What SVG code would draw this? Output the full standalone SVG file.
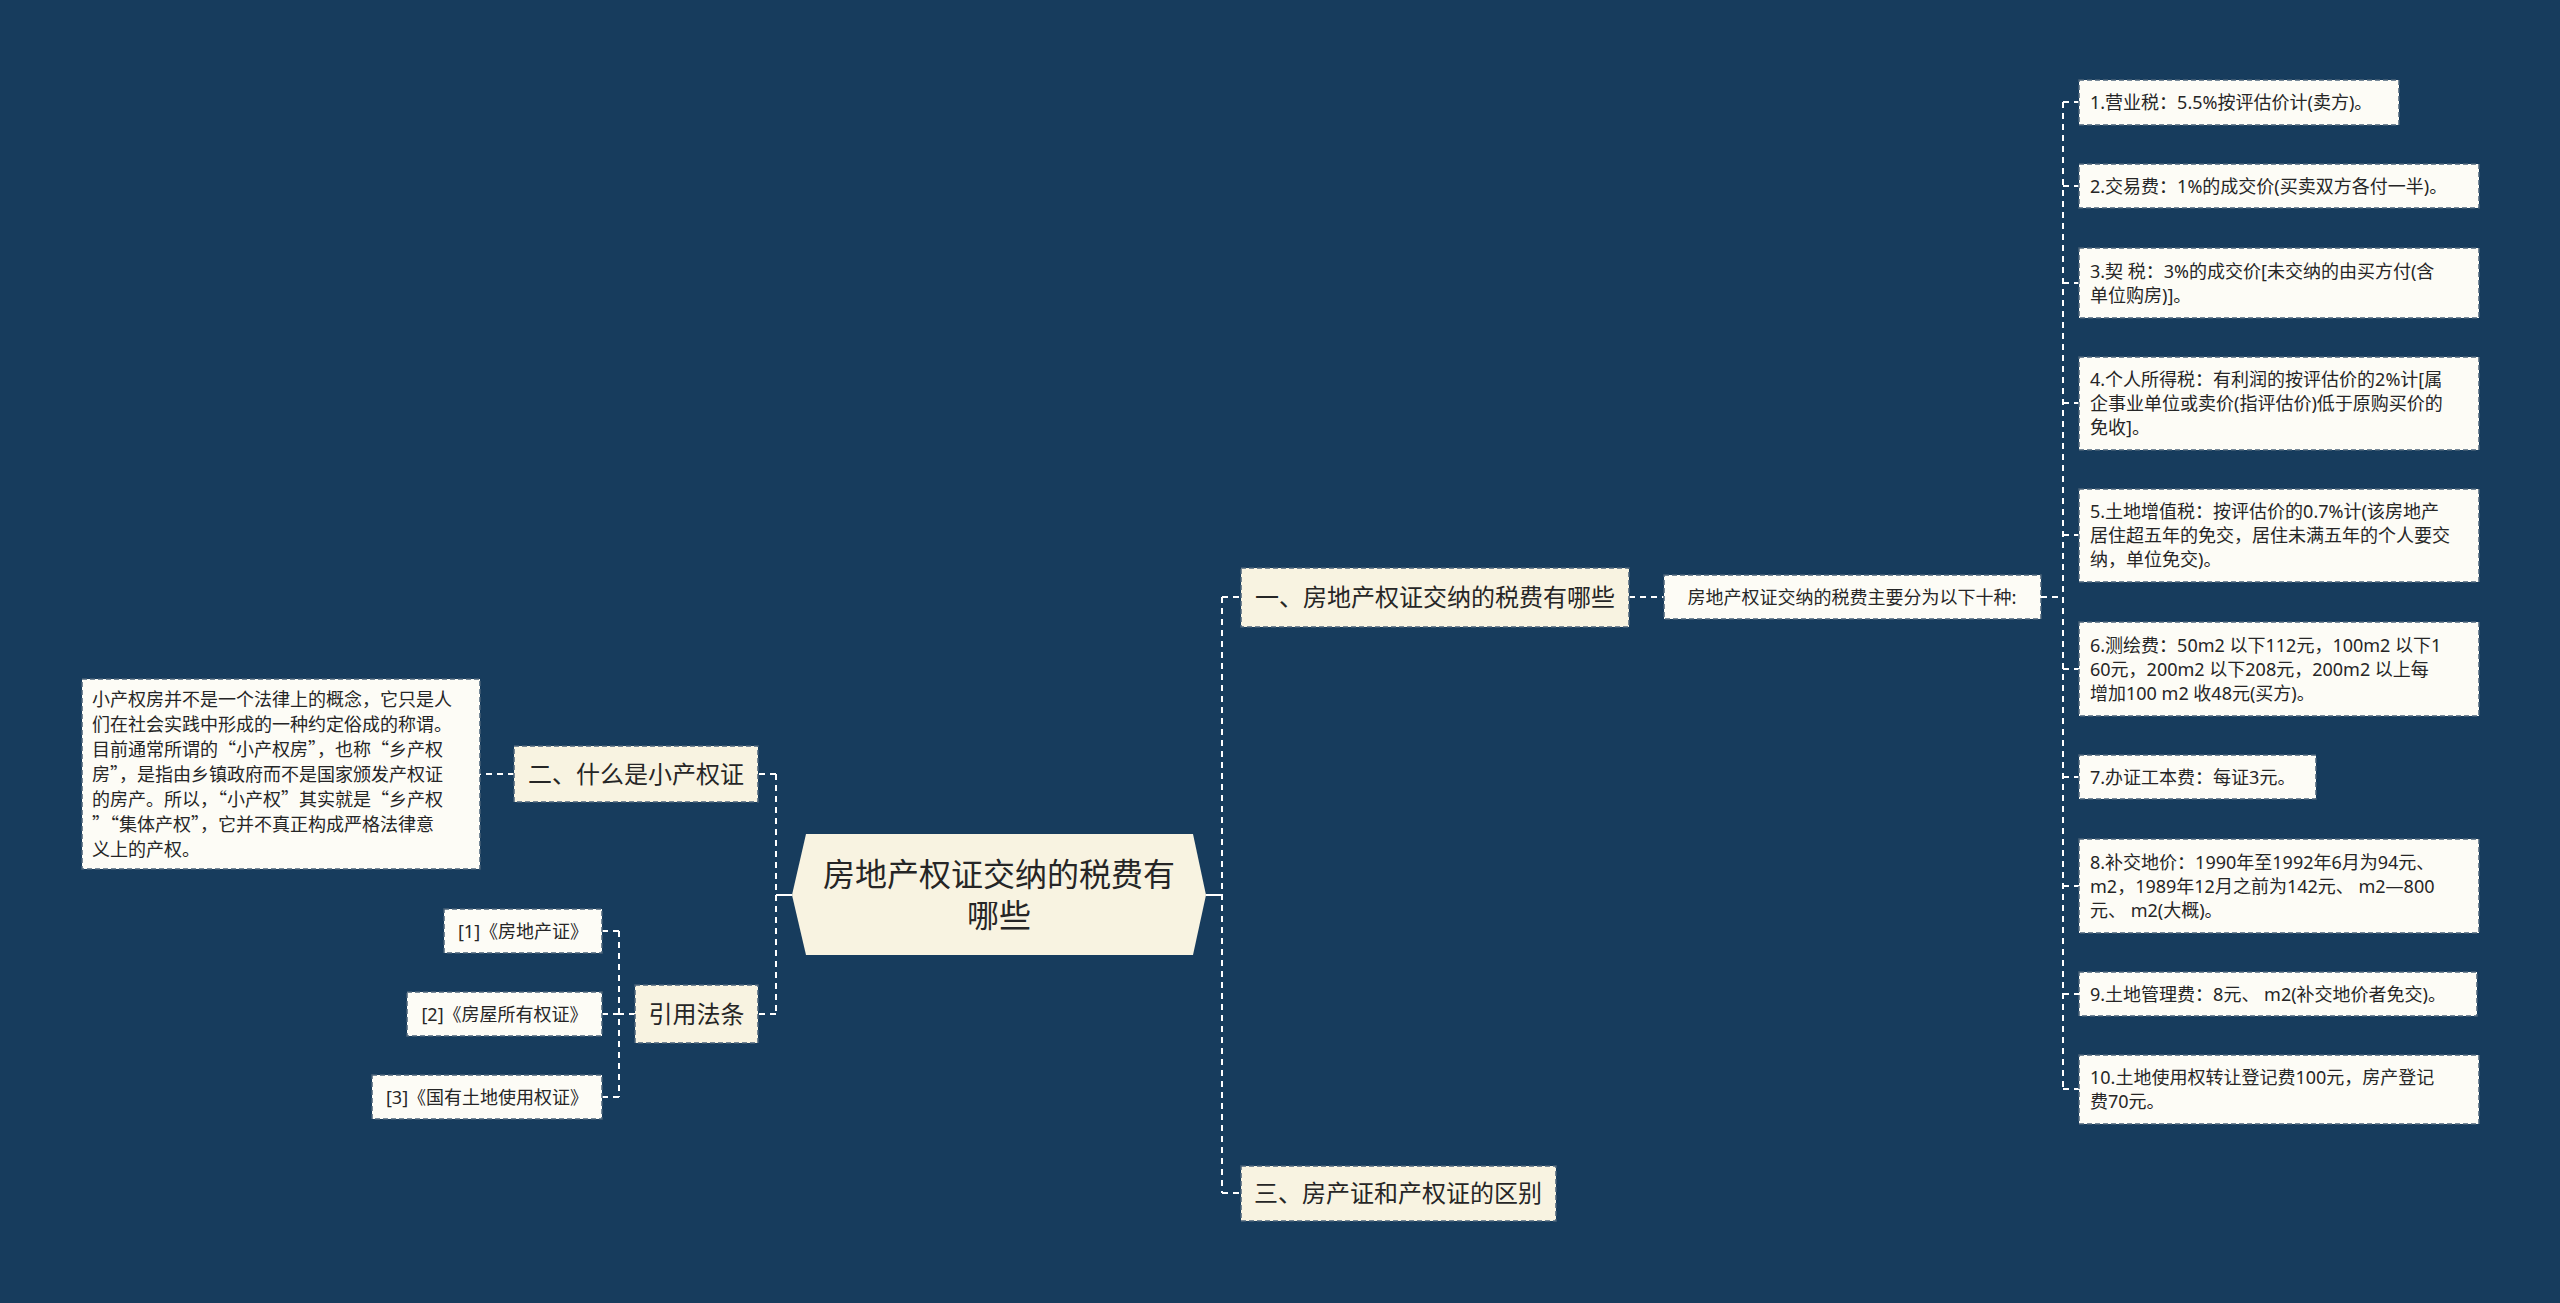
<svg xmlns="http://www.w3.org/2000/svg" width="2560" height="1303" viewBox="0 0 2560 1303">
<style>
.bg{fill:#173c5d}
.main{fill:#f8f3e1;stroke:#4a6278;stroke-width:1.5;stroke-dasharray:5 3}
.leaf{fill:#fdfcf6;stroke:#4a6278;stroke-width:1.5;stroke-dasharray:5 3}
.t{font-family:"Noto Sans CJK SC","Noto Sans",sans-serif;fill:#262626}
.l{font-family:"Noto Sans","Noto Sans CJK SC",sans-serif}
.t32{font-size:32px}
.t24{font-size:24px}
.t18{font-size:18px}
.mid{text-anchor:middle}
.c{fill:none;stroke:#ffffff;stroke-width:2;stroke-dasharray:6 5}
.cs{fill:none;stroke:#ffffff;stroke-width:2}
</style>
<rect class="bg" x="0" y="0" width="2560" height="1303"/>
<g id="connectors">
  <path class="cs" d="M1206 895 H1222"/>
  <path class="c" d="M1222 597 V1193 M1222 597 H1241 M1222 1193 H1241"/>
  <path class="c" d="M1629 597 H1664"/>
  <path class="c" d="M2041 597 H2063"/>
  <path class="c" d="M2063 102 V1089"/>
  <path class="c" d="M2063 102 H2079 M2063 186 H2079 M2063 283 H2079 M2063 403 H2079 M2063 535 H2079 M2063 669 H2079 M2063 777 H2079 M2063 886 H2079 M2063 994 H2079 M2063 1089 H2079"/>
  <path class="cs" d="M792 895 H776"/>
  <path class="c" d="M776 774 V1014 M776 774 H758 M776 1014 H758"/>
  <path class="c" d="M514 774 H480"/>
  <path class="c" d="M635 1014 H619 M619 931 V1097 M619 931 H602 M619 1014 H602 M619 1097 H602"/>
</g>
<g id="root">
  <polygon class="main" points="792,895 806,834 1193,834 1206,895 1193,955 806,955" style="stroke:none"/>
  <text class="t t32 mid" x="999" y="886">房地产权证交纳的税费有</text>
  <text class="t t32 mid" x="999" y="927">哪些</text>
</g>
<g id="n1">
  <rect class="main" x="1241" y="568" width="388" height="59"/>
  <text class="t t24 mid" x="1435" y="606">一、房地产权证交纳的税费有哪些</text>
</g>
<g id="n1-sub">
  <rect class="leaf" x="1664" y="575" width="377" height="44"/>
  <text class="t t18 mid" x="1852" y="603.5">房地产权证交纳的税费主要分为以下十种:</text>
</g>
<g id="leaf1">
  <rect class="leaf" x="2079" y="80" width="320" height="45"/>
  <text class="t l t18" x="2090" y="109">1.营业税：5.5%按评估价计(卖方)。</text>
</g>
<g id="leaf2">
  <rect class="leaf" x="2079" y="164" width="400" height="44"/>
  <text class="t l t18" x="2090" y="192.5">2.交易费：1%的成交价(买卖双方各付一半)。</text>
</g>
<g id="leaf3">
  <rect class="leaf" x="2079" y="248" width="400" height="70"/>
  <text class="t l t18" x="2090" y="277.5">3.契 税：3%的成交价[未交纳的由买方付(含</text>
  <text class="t l t18" x="2090" y="301.5">单位购房)]。</text>
</g>
<g id="leaf4">
  <rect class="leaf" x="2079" y="357" width="400" height="93"/>
  <text class="t l t18" x="2090" y="386">4.个人所得税：有利润的按评估价的2%计[属</text>
  <text class="t l t18" x="2090" y="410">企事业单位或卖价(指评估价)低于原购买价的</text>
  <text class="t l t18" x="2090" y="434">免收]。</text>
</g>
<g id="leaf5">
  <rect class="leaf" x="2079" y="489" width="400" height="93"/>
  <text class="t l t18" x="2090" y="518">5.土地增值税：按评估价的0.7%计(该房地产</text>
  <text class="t l t18" x="2090" y="542">居住超五年的免交，居住未满五年的个人要交</text>
  <text class="t l t18" x="2090" y="566">纳，单位免交)。</text>
</g>
<g id="leaf6">
  <rect class="leaf" x="2079" y="622" width="400" height="94"/>
  <text class="t l t18" x="2090" y="651.5">6.测绘费：50m2 以下112元，100m2 以下1</text>
  <text class="t l t18" x="2090" y="675.5">60元，200m2 以下208元，200m2 以上每</text>
  <text class="t l t18" x="2090" y="699.5">增加100 m2 收48元(买方)。</text>
</g>
<g id="leaf7">
  <rect class="leaf" x="2079" y="755" width="237" height="44"/>
  <text class="t l t18" x="2090" y="783.5">7.办证工本费：每证3元。</text>
</g>
<g id="leaf8">
  <rect class="leaf" x="2079" y="839" width="400" height="94"/>
  <text class="t l t18" x="2090" y="868.5">8.补交地价：1990年至1992年6月为94元、</text>
  <text class="t l t18" x="2090" y="892.5">m2，1989年12月之前为142元、 m2—800</text>
  <text class="t l t18" x="2090" y="916.5">元、 m2(大概)。</text>
</g>
<g id="leaf9">
  <rect class="leaf" x="2079" y="972" width="398" height="44"/>
  <text class="t l t18" x="2090" y="1000.5">9.土地管理费：8元、 m2(补交地价者免交)。</text>
</g>
<g id="leaf10">
  <rect class="leaf" x="2079" y="1055" width="400" height="69"/>
  <text class="t l t18" x="2090" y="1083.5">10.土地使用权转让登记费100元，房产登记</text>
  <text class="t l t18" x="2090" y="1107.5">费70元。</text>
</g>
<g id="n3">
  <rect class="main" x="1241" y="1166" width="315" height="55"/>
  <text class="t t24 mid" x="1398" y="1202">三、房产证和产权证的区别</text>
</g>
<g id="n2">
  <rect class="main" x="514" y="746" width="244" height="56"/>
  <text class="t t24 mid" x="636" y="782.5">二、什么是小产权证</text>
</g>
<g id="n2-text">
  <rect class="leaf" x="82" y="679" width="398" height="190"/>
  <text class="t t18" x="92" y="705.5">小产权房并不是一个法律上的概念，它只是人</text>
  <text class="t t18" x="92" y="730.5">们在社会实践中形成的一种约定俗成的称谓。</text>
  <text class="t t18" x="92" y="755.5">目前通常所谓的“小产权房”，也称“乡产权</text>
  <text class="t t18" x="92" y="780.5">房”，是指由乡镇政府而不是国家颁发产权证</text>
  <text class="t t18" x="92" y="805.5">的房产。所以，“小产权”其实就是“乡产权</text>
  <text class="t t18" x="92" y="830.5">”“集体产权”，它并不真正构成严格法律意</text>
  <text class="t t18" x="92" y="855.5">义上的产权。</text>
</g>
<g id="n4">
  <rect class="main" x="635" y="985" width="123" height="58"/>
  <text class="t t24 mid" x="696.5" y="1022.5">引用法条</text>
</g>
<g id="cite1">
  <rect class="leaf" x="444" y="909" width="158" height="44"/>
  <text class="t l t18 mid" x="523" y="937.5">[1]《房地产证》</text>
</g>
<g id="cite2">
  <rect class="leaf" x="407" y="992" width="195" height="44"/>
  <text class="t l t18 mid" x="504.5" y="1020.5">[2]《房屋所有权证》</text>
</g>
<g id="cite3">
  <rect class="leaf" x="372" y="1075" width="230" height="44"/>
  <text class="t l t18 mid" x="487" y="1103.5">[3]《国有土地使用权证》</text>
</g>
</svg>
